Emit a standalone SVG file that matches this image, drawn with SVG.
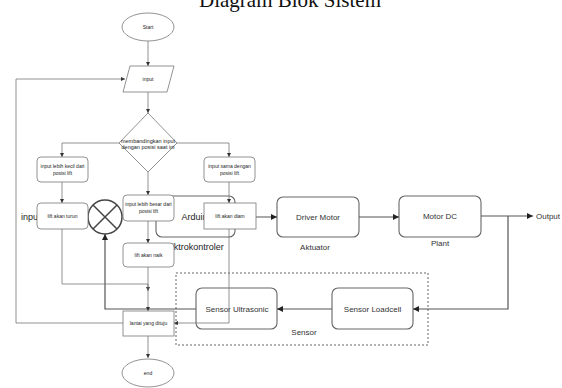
<svg xmlns="http://www.w3.org/2000/svg" width="562" height="388" viewBox="0 0 562 388">
<defs>
<style>
.title{font-family:"Liberation Serif","Times New Roman",serif;font-size:21px;fill:#111}
.bt{font-family:"Liberation Sans",Arial,sans-serif;font-size:8px;fill:#333;text-anchor:middle;dominant-baseline:central}
.bl{font-family:"Liberation Sans",Arial,sans-serif;font-size:9px;fill:#222;dominant-baseline:central}
.ft{font-family:"Liberation Sans",Arial,sans-serif;font-size:5px;fill:#222;text-anchor:middle;dominant-baseline:central}
.bbox{fill:#fff;stroke:#666;stroke-width:1.1}
.fbox{fill:#fff;stroke:#777;stroke-width:0.8}
.bc{fill:none;stroke:#555;stroke-width:1.2}
.fc{fill:none;stroke:#777;stroke-width:0.8}
</style>
<marker id="ba" viewBox="0 0 10 10" refX="10" refY="5" markerWidth="6" markerHeight="6" orient="auto" markerUnits="userSpaceOnUse"><path d="M0,0 L10,5 L0,10 z" fill="#222"/></marker>
<marker id="fa" viewBox="0 0 10 10" refX="10" refY="5" markerWidth="4" markerHeight="4" orient="auto" markerUnits="userSpaceOnUse"><path d="M0,0 L10,5 L0,10 z" fill="#333"/></marker>
</defs>
<rect width="562" height="388" fill="#fff"/>
<text class="title" x="290" y="7" text-anchor="middle">Diagram Blok Sistem</text>

<!-- Block diagram -->
<g id="sensor-group">
<rect x="176" y="273" width="252" height="72" fill="none" stroke="#666" stroke-width="1" stroke-dasharray="2,2"/>
<text class="bt" x="304" y="332">Sensor</text>
</g>
<g id="input-label"><text class="bl" x="21" y="217">input</text></g>
<g id="arduino">
<rect class="bbox" x="156" y="196" width="79" height="41" rx="6"/>
<text class="bl" x="197" y="217" text-anchor="middle">Arduino</text>
<text class="bl" x="194" y="247" text-anchor="middle">Miktrokontroler</text>
</g>
<g id="driver">
<rect class="bbox" x="277" y="197" width="82" height="40" rx="6"/>
<text class="bt" x="318" y="217">Driver Motor</text>
<text class="bt" x="315" y="247">Aktuator</text>
</g>
<g id="motor">
<rect class="bbox" x="399" y="196" width="82" height="41" rx="6"/>
<text class="bt" x="440" y="216">Motor DC</text>
<text class="bt" x="440" y="243">Plant</text>
</g>
<g id="output-label"><text class="bt" x="536" y="216" style="text-anchor:start">Output</text></g>
<g id="loadcell">
<rect class="bbox" x="332" y="288" width="81" height="41" rx="6"/>
<text class="bt" x="372.5" y="309">Sensor Loadcell</text>
</g>
<g id="ultrasonic">
<rect class="bbox" x="196" y="288" width="81" height="41" rx="6"/>
<text class="bt" x="237" y="309">Sensor Ultrasonic</text>
</g>
<g id="junction">
<circle cx="105" cy="217" r="17" fill="#fff" stroke="#444" stroke-width="1.5"/>
<path d="M93,205 L117,229 M117,205 L93,229" stroke="#444" stroke-width="1.5"/>
</g>
<g id="block-connectors">
<path class="bc" d="M235,217 L277,217" marker-end="url(#ba)"/>
<path class="bc" d="M359,217 L399,217" marker-end="url(#ba)"/>
<path class="bc" d="M481,216 L533,216" marker-end="url(#ba)"/>
<path class="bc" d="M508,216 L508,309 L413,309" marker-end="url(#ba)"/>
<path class="bc" d="M332,309 L277,309" marker-end="url(#ba)"/>
<path class="bc" d="M196,309 L105,309 L105,234" marker-end="url(#ba)" stroke-width="1.5"/>
</g>

<!-- Flowchart -->
<g id="flow-connectors">
<path class="fc" d="M148,41 L148,66" marker-end="url(#fa)"/>
<path class="fc" d="M148,92 L148,113" marker-end="url(#fa)"/>
<path class="fc" d="M119,143 L62,143 L62,157" marker-end="url(#fa)"/>
<path class="fc" d="M177,143 L229,143 L229,157" marker-end="url(#fa)"/>
<path class="fc" d="M148,172 L148,195" marker-end="url(#fa)"/>
<path class="fc" d="M62,182 L62,203" marker-end="url(#fa)"/>
<path class="fc" d="M229,182 L229,203" marker-end="url(#fa)"/>
<path class="fc" d="M148,221 L148,243" marker-end="url(#fa)"/>
<path class="fc" d="M62,229 L62,284 L148,284 L148,291" marker-end="url(#fa)"/>
<path class="fc" d="M148,267 L148,311" marker-end="url(#fa)"/>
<path class="fc" d="M229,229 L229,323 L174,323" marker-end="url(#fa)"/>
<path class="fc" d="M123,323 L16,323 L16,79 L125,79" marker-end="url(#fa)"/>
<path class="fc" d="M148,336 L148,358" marker-end="url(#fa)"/>
</g>
<g id="start">
<ellipse class="fbox" cx="148" cy="27" rx="26" ry="14"/>
<text class="ft" x="148" y="27">Start</text>
</g>
<g id="input">
<path class="fbox" d="M130,66 L174,66 L167,92 L123,92 Z"/>
<text class="ft" x="148" y="79">input</text>
</g>
<g id="compare">
<path class="fbox" d="M148,113 L177,143 L148,172 L119,143 Z"/>
<text class="ft" x="148" y="141" style="font-size:5.5px">membandingkan input</text>
<text class="ft" x="148" y="147" style="font-size:5.5px">dengan posisi saat ini</text>
</g>
<g id="kecil">
<rect class="fbox" x="37" y="157" width="51" height="25" rx="4"/>
<text class="ft" x="62.5" y="166">input lebih kecil dari</text>
<text class="ft" x="62.5" y="173">posisi lift</text>
</g>
<g id="sama">
<rect class="fbox" x="204" y="157" width="51" height="25" rx="4"/>
<text class="ft" x="229.5" y="166">input sama dengan</text>
<text class="ft" x="229.5" y="173">posisi lift</text>
</g>
<g id="besar">
<rect class="fbox" x="123" y="195" width="51" height="26" rx="4"/>
<text class="ft" x="148.5" y="204">input lebih besar dari</text>
<text class="ft" x="148.5" y="211">posisi lift</text>
</g>
<g id="turun">
<rect class="fbox" x="37" y="203" width="51" height="26" rx="4"/>
<text class="ft" x="62.5" y="216">lift akan turun</text>
</g>
<g id="diam">
<rect class="fbox" x="204" y="203" width="52" height="26"/>
<text class="ft" x="230" y="216">lift akan diam</text>
</g>
<g id="naik">
<rect class="fbox" x="123" y="243" width="51" height="24" rx="4"/>
<text class="ft" x="148.5" y="255">lift akan naik</text>
</g>
<g id="lantai">
<rect class="fbox" x="123" y="311" width="51" height="25"/>
<text class="ft" x="148.5" y="323">lantai yang dituju</text>
</g>
<g id="end">
<ellipse class="fbox" cx="148" cy="373" rx="26" ry="14"/>
<text class="ft" x="148" y="373">end</text>
</g>
</svg>
